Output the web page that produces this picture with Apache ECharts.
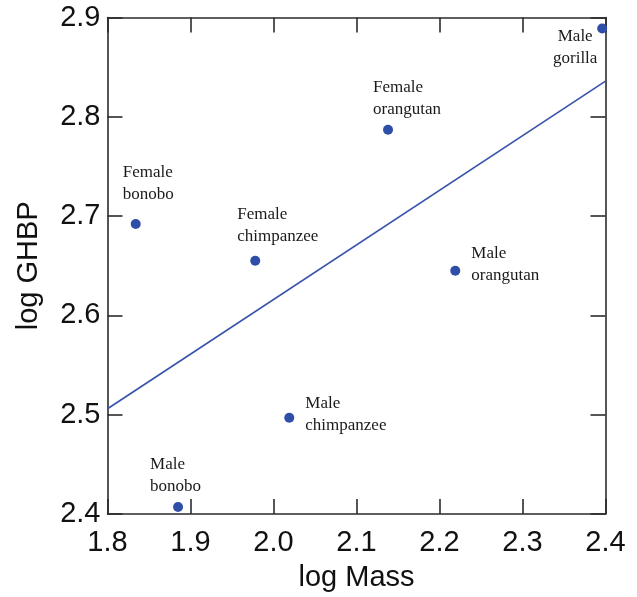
<!DOCTYPE html>
<html>
<head>
<meta charset="utf-8">
<script src="https://cdn.jsdelivr.net/npm/echarts@6/dist/echarts.min.js"></script>
<style>
html,body{margin:0;padding:0;background:#fff;}
#chart{width:637px;height:597px;}
</style>
</head>
<body>
<div id="chart"></div>
<script>
// ---- data ----
const groupNames = ['Female\nbonobo', 'Male\nbonobo', 'Female\nchimpanzee', 'Male\nchimpanzee', 'Female\norangutan', 'Male\norangutan', 'Male\ngorilla'];
const logMass = [1.834, 1.885, 1.978, 2.019, 2.138, 2.219, 2.396];
const logGHBP = [2.692, 2.407, 2.655, 2.497, 2.787, 2.645, 2.889];
const fitX = [1.8, 2.4];
const fitY = [2.506, 2.836];
const xRange = [1.8, 2.4];
const yRange = [2.4, 2.9];
const tickStep = 0.1;

// ---- presentation ----
const labelPlacement = [
  {align: 'left', offset: [-13, -41]},
  {align: 'left', offset: [-28, -32]},
  {align: 'left', offset: [-18, -35]},
  {align: 'left', offset: [16, -3]},
  {align: 'left', offset: [-15, -31]},
  {align: 'left', offset: [16, -6]},
  {align: 'center', offset: [-27, 19]}
];

const axisColor = '#2b2b2b';
const dotColor = '#2f4ea8';
const sansFont = '"Liberation Sans", Arial, sans-serif';
const serifFont = '"Liberation Serif", "Times New Roman", serif';

const chart = echarts.init(document.getElementById('chart'), null, {renderer: 'canvas'});

function baseAxis(extra) {
  return Object.assign({
    type: 'value',
    interval: tickStep,
    splitLine: {show: false},
    axisLine: {show: true, onZero: false, lineStyle: {color: axisColor, width: 1.6}},
    axisTick: {show: true, inside: true, length: 15, lineStyle: {color: axisColor, width: 1.6}}
  }, extra);
}

const scatterData = logMass.map((x, i) => ({
  value: [x, logGHBP[i]],
  name: groupNames[i],
  label: {
    show: true,
    position: 'inside',
    align: labelPlacement[i].align,
    verticalAlign: 'middle',
    offset: labelPlacement[i].offset
  }
}));

const option = {
  animation: false,
  backgroundColor: '#ffffff',
  grid: {left: 107.5, right: 31.5, top: 17.5, bottom: 83, containLabel: false},
  xAxis: [
    baseAxis({
      min: xRange[0], max: xRange[1], position: 'bottom',
      name: 'log Mass', nameLocation: 'middle', nameGap: 49,
      nameTextStyle: {fontFamily: sansFont, fontSize: 29, color: '#111'},
      axisLabel: {fontFamily: sansFont, fontSize: 29, color: '#111', margin: 14,
        formatter: v => v.toFixed(1)}
    }),
    baseAxis({
      min: xRange[0], max: xRange[1], position: 'top',
      axisLabel: {show: false}
    })
  ],
  yAxis: [
    baseAxis({
      min: yRange[0], max: yRange[1], position: 'left',
      name: 'log GHBP', nameLocation: 'middle', nameGap: 64, nameRotate: 90,
      nameTextStyle: {fontFamily: sansFont, fontSize: 29, color: '#111'},
      axisLabel: {fontFamily: sansFont, fontSize: 29, color: '#111', margin: 7,
        formatter: v => v.toFixed(1)}
    }),
    baseAxis({
      min: yRange[0], max: yRange[1], position: 'right',
      axisLabel: {show: false}
    })
  ],
  series: [
    {
      type: 'line',
      data: fitX.map((x, i) => [x, fitY[i]]),
      showSymbol: false,
      symbol: 'none',
      lineStyle: {color: '#3652ab', width: 1.6},
      z: 1,
      silent: true
    },
    {
      type: 'scatter',
      data: scatterData,
      symbol: 'circle',
      symbolSize: 10,
      clip: false,
      itemStyle: {color: dotColor, opacity: 1},
      label: {
        show: true,
        formatter: p => p.name,
        fontFamily: serifFont,
        fontSize: 17,
        lineHeight: 22,
        color: '#1a1a1a'
      },
      z: 3
    }
  ]
};

chart.setOption(option);
</script>
</body>
</html>
